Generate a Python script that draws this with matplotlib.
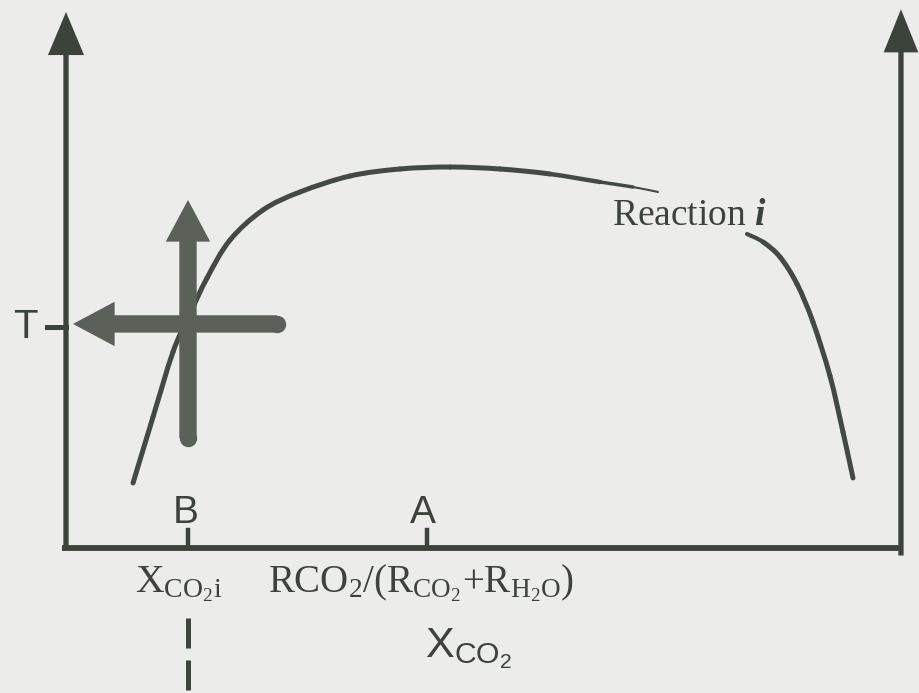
import numpy as np
import matplotlib
matplotlib.use("Agg")
import matplotlib.pyplot as plt
from matplotlib.path import Path
from matplotlib.patches import PathPatch

plt.rcParams['mathtext.fontset'] = 'custom'
plt.rcParams['mathtext.rm'] = 'Liberation Serif'
plt.rcParams['mathtext.it'] = 'Liberation Serif:italic'
plt.rcParams['mathtext.bf'] = 'Liberation Serif:bold'
plt.rcParams['mathtext.bfit'] = 'Liberation Serif:italic:bold'
plt.rcParams['mathtext.sf'] = 'Liberation Sans'

# reaction curve, x = X_CO2 (0..1), y = T (scaled 0..1)
curve_x = [0.0799, 0.1037, 0.1275, 0.1454, 0.1681, 0.1955, 0.2348, 0.2789,
           0.3385, 0.3981, 0.4577, 0.5173, 0.5769, 0.6365, 0.6758, 0.7056]
curve_y = [0.1213, 0.2444, 0.3657, 0.4291, 0.5037, 0.5746, 0.6306, 0.6642,
           0.6940, 0.7071, 0.7108, 0.7071, 0.6978, 0.6828, 0.6735, 0.6642]
tail_x = [0.8117, 0.8308, 0.8510, 0.8713, 0.8903, 0.9106, 0.9261, 0.9380]
tail_y = [0.5858, 0.5709, 0.5429, 0.4925, 0.4216, 0.3209, 0.2164, 0.1306]

x_b = 0.1454
t_b = 0.418
x_a = 0.4303
x_right = 0.9952
cross_lo, cross_hi = 0.2052, 0.6493
cross_right, cross_left = 0.2515, 0.0083

ink = '#3b433b'
line_col = '#434a43'
grey = '#5b6059'

fig = plt.figure(figsize=(9.19, 6.93), dpi=100)
fig.patch.set_facecolor('#ececeb')
ax = fig.add_axes([0, 0, 1, 1])
ax.set_xlim(-66 / 839, 853 / 839)
ax.set_ylim(-145 / 536, 548 / 536)
ax.axis('off')


def arrow(x0, y0, x1, y1, tail, hw, hl, color, z=3):
    ax.annotate('', xy=(x1, y1), xytext=(x0, y0),
                arrowprops=dict(arrowstyle=f'simple,head_length={hl},head_width={hw},tail_width={tail}',
                                mutation_scale=1, fc=color, ec='none', lw=0,
                                shrinkA=0, shrinkB=0), zorder=z)


# axes with arrow heads
ax.plot([-0.005, x_right + 0.002], [0, 0], color=ink, lw=4.2, solid_capstyle='butt', zorder=3)
arrow(0, -0.004, 0, 1.0, 3.8, 26, 31, ink)
arrow(x_right, -0.014, x_right, 1.005, 3.8, 25, 31, ink)

# ticks for A and B
for xt in [x_b, x_a]:
    ax.plot([xt, xt], [0, 0.0336], color=ink, lw=3.2, zorder=3)
ax.plot([-0.0226, 0], [t_b - 0.006, t_b - 0.006], color=ink, lw=3.6, zorder=3)

# dashed drop line below X_CO2i
ax.plot([x_b, x_b], [-0.1306, -0.2705], color=ink, lw=3.6,
        dashes=(6, 2.4), zorder=3)


def smooth_curve(xs, ys, widths):
    # Catmull-Rom through the points, drawn as cubic Bezier pieces
    p = np.column_stack([xs, ys])
    ext = np.vstack([p[0], p, p[-1]])
    for i in range(len(p) - 1):
        p0, p1, p2, p3 = ext[i], ext[i + 1], ext[i + 2], ext[i + 3]
        c1 = p1 + (p2 - p0) / 6
        c2 = p2 - (p3 - p1) / 6
        path = Path([p1, c1, c2, p2], [Path.MOVETO, Path.CURVE4, Path.CURVE4, Path.CURVE4])
        ax.add_patch(PathPatch(path, fc='none', ec=line_col, lw=widths[i],
                               capstyle='round', zorder=4))


w1 = [3.6] * (len(curve_x) - 1)
w1[-3:] = [3.2, 2.5, 1.5]
smooth_curve(curve_x, curve_y, w1)
w2 = [3.6] * (len(tail_x) - 1)
w2[0] = 3.0
smooth_curve(tail_x, tail_y, w2)

# crosshair arrows
arrow(x_b, cross_lo, x_b, cross_hi, 12.5, 32, 30, grey, z=5)
arrow(cross_right, t_b, cross_left, t_b, 12.5, 32, 30, grey, z=5)
ax.plot([x_b], [cross_lo], 'o', ms=12.5, color=grey, mec='none', zorder=5)
ax.plot([cross_right], [t_b], 'o', ms=12.5, color=grey, mec='none', zorder=5)

# labels
ax.text(-0.0489, 0.4123, 'T', family='Liberation Sans', fontsize=29,
        color=ink, ha='center', va='center')
ax.text(0.143, 0.0653, 'B', family='Liberation Sans', fontsize=28,
        color=ink, ha='center', va='center')
ax.text(0.4255, 0.0653, 'A', family='Liberation Sans', fontsize=28,
        color=ink, ha='center', va='center')
ax.text(0.0822, -0.0821, r'$\mathrm{X_{CO_2i}}$', fontsize=28.5,
        color=ink, ha='left', va='baseline')
ax.text(0.2408, -0.0821, r'$\mathrm{RCO_2/(R_{CO_2}{+}R_{H_2O})}$', fontsize=28,
        color=ink, ha='left', va='baseline')
ax.text(0.4279, -0.2034, r'$\mathsf{X_{CO_2}}$', fontsize=31,
        color=ink, ha='left', va='baseline')
ax.text(0.6508, 0.6026, r'Reaction $\mathbfit{i}$', family='Liberation Serif',
        fontsize=27, color=ink, ha='left', va='baseline')

fig.savefig('out.png', dpi=100, facecolor=fig.get_facecolor())
